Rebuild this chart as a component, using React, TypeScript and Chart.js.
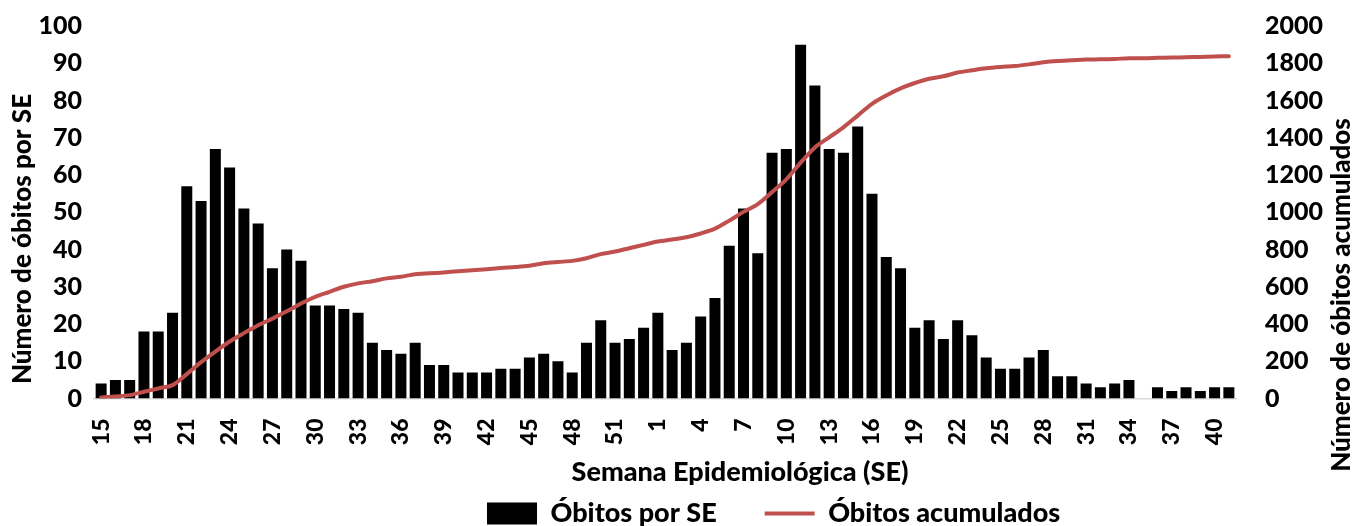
import React, { useEffect, useRef } from 'react';
import { Chart, registerables } from 'chart.js';

Chart.register(...registerables);

// Epidemiological weeks (2020: SE 15–53, 2021: SE 1–41)
const weeks2020 = ['15','16','17','18','19','20','21','22','23','24','25','26','27','28','29','30','31','32','33','34','35','36','37','38','39','40','41','42','43','44','45','46','47','48','49','50','51','52','53'];
const weeks2021 = ['1','2','3','4','5','6','7','8','9','10','11','12','13','14','15','16','17','18','19','20','21','22','23','24','25','26','27','28','29','30','31','32','33','34','35','36','37','38','39','40','41'];

// Deaths per epidemiological week
const deaths2020 = [4,5,5,18,18,23,57,53,67,62,51,47,35,40,37,25,25,24,23,15,13,12,15,9,9,7,7,7,8,8,11,12,10,7,15,21,15,16,19];
const deaths2021 = [23,13,15,22,27,41,51,39,66,67,95,84,67,66,73,55,38,35,19,21,16,21,17,11,8,8,11,13,6,6,4,3,4,5,0,3,2,3,2,3,3];

// Accumulated deaths
const cumulative2020 = [5,11,18,36,54,72,131,195,252,306,351,393,429,468,510,546,573,600,618,630,645,654,667,672,677,683,688,694,701,706,713,726,733,739,753,775,789,807,825];
const cumulative2021 = [843,854,866,886,912,955,1002,1044,1108,1177,1266,1348,1402,1456,1519,1582,1627,1665,1694,1717,1730,1750,1762,1773,1780,1785,1794,1805,1812,1816,1820,1821,1823,1827,1827,1829,1831,1832,1834,1836,1838];

const leftAxisTitle = 'Número de óbitos por SE';
const rightAxisTitle = 'Número de óbitos acumulados';
const xAxisTitle = 'Semana Epidemiológica (SE)';
const barLabel = 'Óbitos por SE';
const lineLabel = 'Óbitos acumulados';

const weekLabels = [...weeks2020, ...weeks2021];
const deathsPerWeek = [...deaths2020, ...deaths2021];
const cumulativeDeaths = [...cumulative2020, ...cumulative2021];

const FONT = 'Lato, Carlito, Calibri, sans-serif';
const WEIGHT = 900;

export default function App() {
  const canvasRef = useRef<HTMLCanvasElement | null>(null);

  useEffect(() => {
    if (!canvasRef.current) return;

    const titlesPlugin = {
      id: 'axisTitlesCustom',
      afterLayout(chart: any) {
        const lg = chart.legend;
        if (lg) {
          const w = lg.right - lg.left;
          const pad = lg.options.labels.padding;
          lg.left = chart.chartArea.left + 393 - pad;
          lg.right = lg.left + w;
        }
      },
      afterDraw(chart: any) {
        const { ctx, chartArea } = chart;
        ctx.save();
        ctx.fillStyle = '#000';
        ctx.font = `${WEIGHT} 26px ${FONT}`;
        ctx.textAlign = 'center';
        ctx.textBaseline = 'middle';
        // left title
        ctx.save();
        ctx.translate(chartArea.left - 71, chartArea.top + 213);
        ctx.rotate(-Math.PI / 2);
        ctx.fillText(leftAxisTitle, 0, 0);
        ctx.restore();
        // right title
        ctx.save();
        ctx.translate(chartArea.right + 106, chartArea.top + 269);
        ctx.rotate(-Math.PI / 2);
        ctx.fillText(rightAxisTitle, 0, 0);
        ctx.restore();
        // x title
        ctx.font = `${WEIGHT} 27px ${FONT}`;
        ctx.fillText(xAxisTitle, chartArea.left + 646, chartArea.bottom + 74);
        ctx.restore();
      },
    };

    const tickFont = { family: FONT, weight: WEIGHT, size: 25 };

    const chart = new Chart(canvasRef.current, {
      type: 'bar',
      data: {
        labels: weekLabels,
        datasets: [
          {
            type: 'bar',
            label: barLabel,
            data: deathsPerWeek,
            backgroundColor: '#000000',
            borderWidth: 0,
            barPercentage: 0.77,
            categoryPercentage: 1,
            yAxisID: 'y',
            order: 2,
          },
          {
            type: 'line',
            label: lineLabel,
            data: cumulativeDeaths,
            borderColor: '#C0504D',
            backgroundColor: '#C0504D',
            borderWidth: 4,
            borderCapStyle: 'round',
            pointRadius: 0,
            tension: 0.3,
            yAxisID: 'y1',
            order: 1,
          } as any,
        ],
      },
      options: {
        responsive: false,
        animation: false,
        layout: { padding: { top: 26, left: 0, right: 0, bottom: 0 } },
        plugins: {
          tooltip: { enabled: false },
          title: { display: false },
          legend: {
            display: true,
            position: 'bottom',
            align: 'start',
            labels: {
              color: '#000',
              font: { family: FONT, weight: WEIGHT, size: 27 },
              usePointStyle: true,
              pointStyleWidth: 50,
              boxHeight: 22,
              padding: 48,
              sort: (a: any, b: any) => a.datasetIndex - b.datasetIndex,
              generateLabels: (chart: any) => {
                const items = Chart.defaults.plugins.legend.labels.generateLabels(chart);
                return items.map((it: any) =>
                  it.datasetIndex === 0
                    ? { ...it, pointStyle: 'rect', lineWidth: 0, fillStyle: '#000000', strokeStyle: '#000000' }
                    : { ...it, pointStyle: 'line', lineWidth: 4, strokeStyle: '#C0504D', fillStyle: '#C0504D' }
                );
              },
            },
          },
        },
        scales: {
          x: {
            type: 'category',
            offset: true,
            grid: { display: false, drawTicks: false },
            border: { display: true, color: '#d9d9d9', width: 1.5 },
            ticks: {
              autoSkip: false,
              maxRotation: 90,
              minRotation: 90,
              padding: 20,
              color: '#000',
              font: { family: FONT, weight: WEIGHT, size: 23 },
              callback: (_v: any, i: number) => (i % 3 === 0 ? weekLabels[i] : ''),
            },
            afterFit: (s: any) => {
              s.height = 53.5;
            },
          },
          y: {
            position: 'left',
            min: 0,
            max: 100,
            grid: { display: false, drawTicks: false },
            border: { display: false },
            ticks: { stepSize: 10, padding: 12, color: '#000', font: tickFont },
            afterFit: (s: any) => {
              s.width = 94;
              s.paddingTop = 12;
              s.paddingBottom = 12;
            },
          },
          y1: {
            position: 'right',
            min: 0,
            max: 2000,
            grid: { display: false, drawTicks: false },
            border: { display: false },
            ticks: {
              stepSize: 200,
              padding: 29,
              color: '#000',
              font: tickFont,
              callback: (v: any) => String(v),
            },
            afterFit: (s: any) => {
              s.width = 126;
              s.paddingTop = 12;
              s.paddingBottom = 12;
            },
          },
        },
      } as any,
      plugins: [titlesPlugin],
    });

    return () => chart.destroy();
  }, []);

  return (
    <canvas
      ref={canvasRef}
      width={1362}
      height={537}
      style={{ position: 'fixed', left: 0, top: 0, width: 1362, height: 537 }}
    />
  );
}
